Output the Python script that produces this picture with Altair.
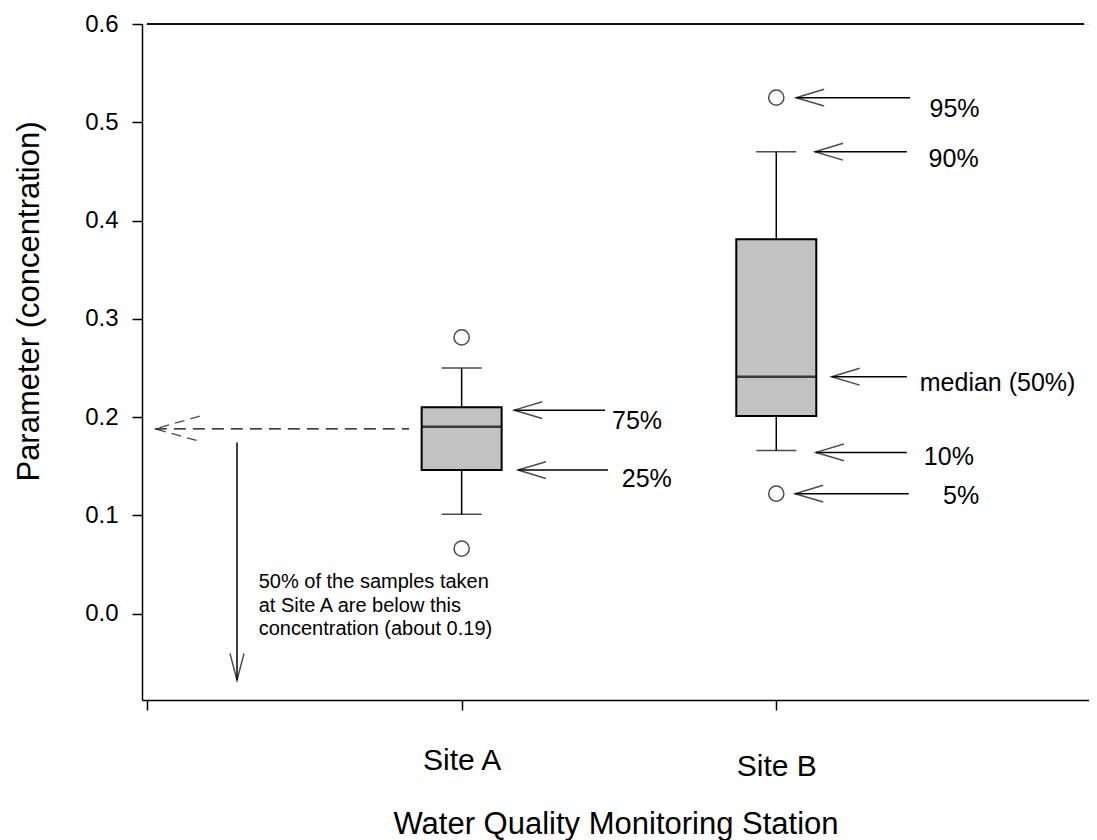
import altair as alt
import pandas as pd

# ---- data ----
sites = ["Site A", "Site B"]
site_pos = [1, 2]
p5 = [0.066, 0.122]
p10 = [0.101, 0.166]
q1 = [0.146, 0.201]
median = [0.190, 0.241]
q3 = [0.210, 0.381]
p90 = [0.250, 0.470]
p95 = [0.281, 0.525]

# arrows pointing at percentiles (data units)
arrow_head_x = [1.167, 1.179, 2.063, 2.123, 2.176, 2.126, 2.060]
arrow_tail_x = [1.456, 1.465, 2.425, 2.415, 2.415, 2.415, 2.421]
arrow_y = [0.207, 0.146, 0.525, 0.470, 0.241, 0.164, 0.122]
label_text = ["75%", "25%", "95%", "90%", "median (50%)", "10%", "5%"]
label_x = [1.478, 1.509, 2.487, 2.484, 2.456, 2.469, 2.530]
label_y = [0.196, 0.137, 0.514, 0.463, 0.235, 0.159, 0.120]

# dashed median arrow to the y axis, and downward arrow
dash_x = [0.025, 0.833]
dash_y = 0.188
down_x = 0.286
down_y = [0.174, -0.068]
note_lines = ["50% of the samples taken", "at Site A are below this", "concentration (about 0.19)"]
note_x = 0.355
note_y = [0.032, 0.008, -0.016]

Y_DOMAIN = [-0.088, 0.6]
X_DOMAIN = [0, 2.978]
FONT = "Liberation Sans"

box = pd.DataFrame({"site": sites, "pos": site_pos, "p5": p5, "p10": p10, "q1": q1,
                    "median": median, "q3": q3, "p90": p90, "p95": p95})
arrows = pd.DataFrame({"x": arrow_head_x, "x2": arrow_tail_x, "y": arrow_y})
labels = pd.DataFrame({"x": label_x, "y": label_y, "t": label_text})
notes = pd.DataFrame({"x": [note_x] * 3, "y": note_y, "t": note_lines})
dash = pd.DataFrame({"x": [dash_x[0]], "x2": [dash_x[1]], "y": [dash_y]})
down = pd.DataFrame({"x": [down_x], "y": [down_y[0]], "y2": [down_y[1]]})

xs = alt.Scale(domain=X_DOMAIN, nice=False, zero=False)
ys = alt.Scale(domain=Y_DOMAIN, nice=False, zero=False)

xaxis = alt.Axis(values=[0, 1, 2],
                 labelExpr="datum.value == 1 ? 'Site A' : datum.value == 2 ? ['', 'Site B'] : ''",
                 labelLineHeight=6,
                 title="Water Quality Monitoring Station", grid=False, tickSize=10,
                 labelFontSize=30, labelPadding=35, titleFontSize=31, titleY=124,
                 titleBaseline="middle", domainColor="black", tickColor="black",
                 labelColor="black", titleColor="black", labelFont=FONT, titleFont=FONT,
                 titleFontWeight="normal", domainWidth=1.5, tickWidth=1.5)
yaxis = alt.Axis(values=[0, 0.1, 0.2, 0.3, 0.4, 0.5, 0.6], format=".1f",
                 title="Parameter (concentration)", grid=False, tickSize=10,
                 labelFontSize=24, labelPadding=14, titleFontSize=31,
                 titleX=-97, titleY=277, titleBaseline="bottom", domainColor="black",
                 tickColor="black", labelColor="black", titleColor="black",
                 labelFont=FONT, titleFont=FONT, titleFontWeight="normal",
                 domainWidth=1.5, tickWidth=1.5)

base = alt.Chart(box)
X = alt.X("pos:Q", scale=xs, axis=xaxis)

whisk_hi = base.mark_rule(color="black", strokeWidth=1.5).encode(
    x=X, y=alt.Y("q3:Q", scale=ys, axis=yaxis), y2="p90:Q")
whisk_lo = base.mark_rule(color="black", strokeWidth=1.5).encode(
    x="pos:Q", y="p10:Q", y2="q1:Q")
boxes = base.mark_bar(size=80, fill="#c2c2c2", stroke="black", strokeWidth=2).encode(
    x="pos:Q", y="q1:Q", y2="q3:Q")
med = base.mark_tick(orient="horizontal", size=80, thickness=2.5, color="black").encode(
    x="pos:Q", y="median:Q")
cap_hi = base.mark_tick(orient="horizontal", size=40, thickness=1.5, color="black").encode(
    x="pos:Q", y="p90:Q")
cap_lo = base.mark_tick(orient="horizontal", size=40, thickness=1.5, color="black").encode(
    x="pos:Q", y="p10:Q")
out_hi = base.mark_point(shape="circle", filled=False, size=230, stroke="black", strokeWidth=1.5).encode(
    x="pos:Q", y="p95:Q")
out_lo = base.mark_point(shape="circle", filled=False, size=230, stroke="black", strokeWidth=1.5).encode(
    x="pos:Q", y="p5:Q")

arr_line = alt.Chart(arrows).mark_rule(color="black", strokeWidth=1.5).encode(
    x="x:Q", x2="x2:Q", y="y:Q")
arr_head = alt.Chart(arrows).mark_point(shape="M1,-0.3L0,0L1,0.3", size=3136, filled=False,
                                        stroke="black", strokeWidth=1.5).encode(x="x:Q", y="y:Q")
lab = alt.Chart(labels).mark_text(align="left", baseline="middle", fontSize=25, font=FONT,
                                  color="black").encode(x="x:Q", y="y:Q", text="t:N")

dash_line = alt.Chart(dash).mark_rule(color="black", strokeWidth=1.3, strokeDash=[12, 7]).encode(
    x="x:Q", x2="x2:Q", y="y:Q")
dash_head = alt.Chart(dash).mark_point(shape="M1,-0.28L0,0L1,0.28", size=8100, filled=False,
                                       stroke="black", strokeWidth=1.3, strokeDash=[10, 6]).encode(
    x="x:Q", y="y:Q")
down_line = alt.Chart(down).mark_rule(color="black", strokeWidth=1.5).encode(
    x="x:Q", y="y:Q", y2="y2:Q")
down_head = alt.Chart(down).mark_point(shape="M-0.26,-1L0,0L0.26,-1", size=2916, filled=False,
                                       stroke="black", strokeWidth=1.5).encode(x="x:Q", y="y2:Q")
note = alt.Chart(notes).mark_text(align="left", baseline="middle", fontSize=20, font=FONT,
                                  color="black").encode(x="x:Q", y="y:Q", text="t:N")

top_line = alt.Chart(box).mark_rule(color="black", strokeWidth=1.5).encode(
    x=alt.datum(X_DOMAIN[0]), x2=alt.datum(X_DOMAIN[1]), y=alt.datum(Y_DOMAIN[1]))

chart = alt.layer(
    whisk_hi, whisk_lo, boxes, med, cap_hi, cap_lo, out_hi, out_lo,
    arr_line, arr_head, lab, dash_line, dash_head, down_line, down_head, note, top_line
).properties(
    width=947, height=676,
    autosize=alt.AutoSizeParams(type="none"),
    padding={"left": 134, "top": 16, "right": 0, "bottom": 140},
).configure_view(stroke=None).configure(background="white")

chart.save("out.html", embed_options={"renderer": "svg", "actions": False})
